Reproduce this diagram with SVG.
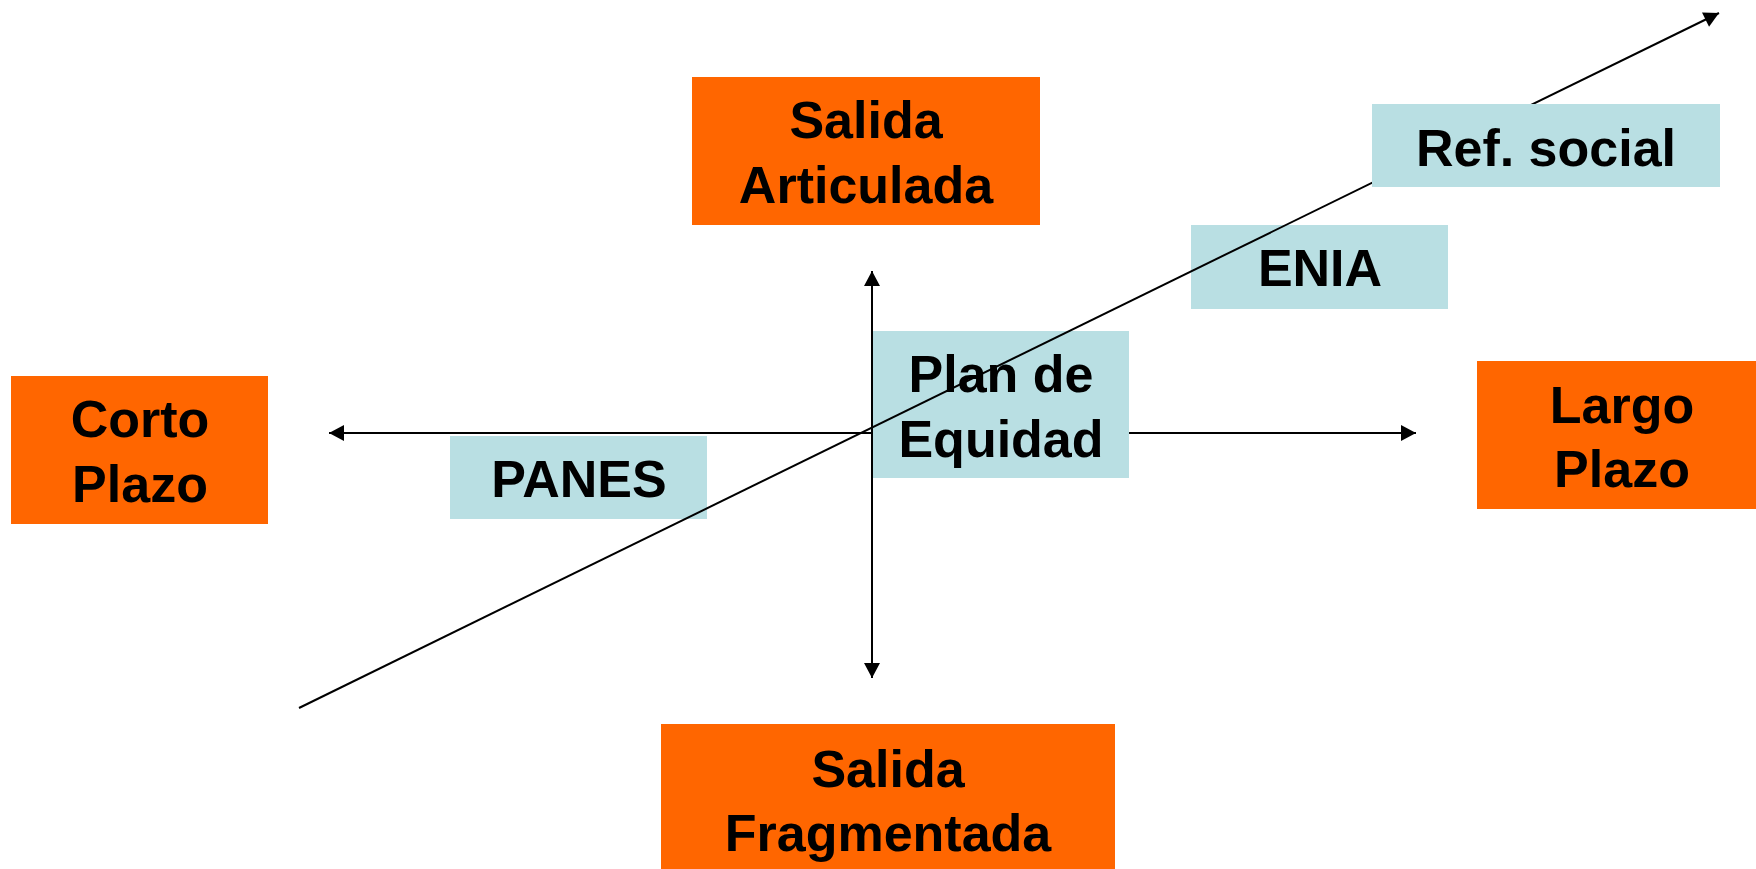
<svg xmlns="http://www.w3.org/2000/svg" width="1756" height="869" viewBox="0 0 1756 869">
<style>
.o{fill:#FF6600}
.b{fill:#B9DFE3}
.t{font-family:"Liberation Sans",Arial,sans-serif;font-weight:bold;font-size:52px;fill:#000;text-anchor:middle}
.ax{stroke:#000;stroke-width:2;fill:none}
</style>
<defs>
<marker id="ah" markerUnits="userSpaceOnUse" markerWidth="16" markerHeight="16" viewBox="0 0 15 16" refX="15" refY="8" orient="auto-start-reverse">
<path d="M0,0 L15,8 L0,16 Z" fill="#000"/>
</marker>
</defs>
<rect width="1756" height="869" fill="#fff"/>
<g id="salida-articulada"><rect class="o" x="692" y="77" width="348" height="148"/><text class="t" x="866" y="138">Salida</text><text class="t" x="866" y="203">Articulada</text></g>
<g id="corto-plazo"><rect class="o" x="11" y="376" width="257" height="148"/><text class="t" x="140" y="437">Corto</text><text class="t" x="140" y="502">Plazo</text></g>
<g id="largo-plazo"><rect class="o" x="1477" y="361" width="290" height="148"/><text class="t" x="1622" y="423">Largo</text><text class="t" x="1622" y="487">Plazo</text></g>
<g id="salida-fragmentada"><rect class="o" x="661" y="724" width="454" height="150"/><text class="t" x="888" y="787">Salida</text><text class="t" x="888" y="851">Fragmentada</text></g>
<g id="axes">
<line class="ax" x1="872" y1="271" x2="872" y2="678" marker-start="url(#ah)" marker-end="url(#ah)"/>
<line class="ax" x1="329" y1="433" x2="1416" y2="433" marker-start="url(#ah)" marker-end="url(#ah)"/>
</g>
<g id="enia"><rect class="b" x="1191" y="225" width="257" height="84"/><text class="t" x="1320" y="286">ENIA</text></g>
<g id="panes"><rect class="b" x="450" y="436" width="257" height="83"/><text class="t" x="579" y="497">PANES</text></g>
<g id="plan-de-equidad"><rect class="b" x="873" y="331" width="256" height="147"/><text class="t" x="1001" y="392">Plan de</text><text class="t" x="1001" y="457">Equidad</text></g>
<g id="connectors">
<line class="ax" x1="299" y1="708" x2="1719" y2="13" marker-end="url(#ah)"/>
</g>
<g id="ref-social"><rect class="b" x="1372" y="104" width="348" height="83"/><text class="t" x="1546" y="166">Ref. social</text></g>
</svg>
